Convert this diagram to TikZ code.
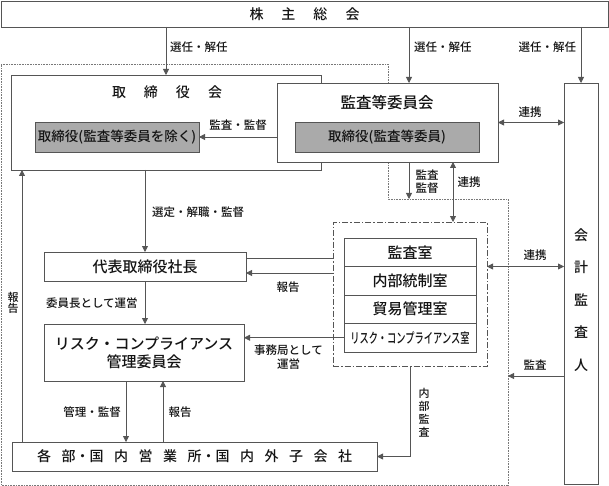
\documentclass[tikz,border=0pt]{standalone}
\usepackage{fontspec}
\usepackage{graphicx}
\setmainfont{Noto Sans CJK JP}[UprightFont={* Medium}]
\usetikzlibrary{arrows.meta}
\definecolor{ln}{RGB}{85,85,85}
\definecolor{dotc}{RGB}{120,120,120}
\definecolor{gfill}{RGB}{170,170,170}
\definecolor{tx}{RGB}{20,20,20}
\newcommand{\jfsz}[1]{\fontsize{#1}{#1}\selectfont}
\newcommand{\jfs}[2]{\fontsize{#1}{#2}\selectfont}
\newcommand{\jgap}{\hspace{10.5pt}}
\newcommand{\jgapL}{\hspace{18pt}}
\begin{document}
\begin{tikzpicture}[x=1pt,y=-1pt,
  box/.style={draw=ln, line width=0.8pt, fill=white, inner sep=0pt, outer sep=0pt, text=tx},
  gbox/.style={box, fill=gfill},
  arr/.style={draw=ln, line width=0.8pt, -{Triangle[length=6pt,width=6pt]}},
  darr/.style={draw=ln, line width=0.8pt, {Triangle[length=6pt,width=6pt]}-{Triangle[length=6pt,width=6pt]}},
  plainline/.style={draw=ln, line width=0.8pt},
  lbl/.style={inner sep=0pt, outer sep=0pt, text=tx, font=\jfsz{11.5}},
]
\useasboundingbox (0,0) rectangle (609,486);

% outer dotted region
\draw[dotc, line width=0.6pt, dash pattern=on 0.8pt off 0.8pt]
  (1,64) -- (388,64) -- (388,199) -- (508,199) -- (508,485) -- (1,485) -- cycle;
\coordinate (kkend) at (409,199);
\coordinate (kaend) at (508,376);

% shareholders
\node[box, minimum width=607pt, minimum height=26pt, font=\jfsz{14}] (kabu) at (304.5,14)
  {株\jgapL 主\jgapL 総\jgapL 会};

% board
\node[box, minimum width=310pt, minimum height=95pt] (tori) at (166,122.5) {};
\node[lbl, font=\jfsz{14}] (toriT) at (167,92) {取\jgapL 締\jgapL 役\jgapL 会};
\node[gbox, minimum width=164pt, minimum height=30pt, font=\jfsz{13.5}] (g1) at (117,137) {取締役(監査等委員を除く)};

% audit committee
\node[box, minimum width=221pt, minimum height=79pt] (kansa) at (387.5,122.5) {};
\node[lbl, font=\jfsz{15.5}] (kansaT) at (387,103) {監査等委員会};
\node[gbox, minimum width=184pt, minimum height=30pt, font=\jfsz{13.5}] (g2) at (387,137) {取締役(監査等委員)};

% accounting auditor
\node[box, minimum width=34pt, minimum height=401pt] (kaikei) at (581,283.5) {};
\node[lbl, font=\jfs{14}{32.5}, align=center] (kaikeiT) at (581,300) {会\\計\\監\\査\\人};

% president
\node[box, minimum width=202pt, minimum height=29pt, font=\jfsz{15}] (daihyo) at (145,266.5) {代表取締役社長};

% risk committee
\node[box, minimum width=200pt, minimum height=57pt, font=\jfs{15}{18}, align=center] (risk) at (144,352.5)
  {リスク・コンプライアンス\\管理委員会};

% dash-dot group
\node[draw=ln, line width=0.8pt, dash pattern=on 6pt off 2pt on 1.5pt off 2pt,
  minimum width=154pt, minimum height=144pt, inner sep=0pt, outer sep=0pt] (dd) at (410,294) {};
\node[box, minimum width=132pt, minimum height=28.5pt, font=\jfsz{15}] (r1) at (410,252.25) {監査室};
\node[box, minimum width=132pt, minimum height=28.5pt, font=\jfsz{15}] (r2) at (410,280.75) {内部統制室};
\node[box, minimum width=132pt, minimum height=28.5pt, font=\jfsz{15}] (r3) at (410,309.25) {貿易管理室};
\node[box, minimum width=132pt, minimum height=28.5pt, font=\jfsz{14}] (r4) at (410,337.75)
  {\scalebox{0.66}[1]{リスク・コンプライアンス室}};

% departments
\node[box, minimum width=365pt, minimum height=29pt, font=\jfsz{14}] (kb) at (194.5,456.5)
  {各\jgap 部・国\jgap 内\jgap 営\jgap 業\jgap 所・国\jgap 内\jgap 外\jgap 子\jgap 会\jgap 社};

% connectors from shareholders
\draw[arr] (kabu.south -| tori.north) -- (tori.north);
\draw[arr] (kabu.south -| kkend) -- (kansa.north -| kkend);
\draw[arr] (kabu.south -| kaikei.north) -- (kaikei.north);
\node[lbl, anchor=west] at (170,47) {選任・解任};
\node[lbl, anchor=west] at (414,47) {選任・解任};
\node[lbl, anchor=east] at (576,47) {選任・解任};

% audit committee relations
\draw[arr] (kansa.west |- g1.east) -- (g1.east);
\node[lbl] at (238,125) {監査・監督};
\draw[darr] (kansa.east) -- (kansa.east -| kaikei.west);
\node[lbl] at (530,112) {連携};
\draw[arr] (kansa.south -| kkend) -- (kkend);
\node[lbl, font=\jfs{11.5}{13}, align=center] at (427,181.5) {監査\\監督};
\draw[darr] (kansa.south -| 453,0) -- (dd.north -| 453,0);
\node[lbl] at (469,182) {連携};

% accounting auditor relations
\draw[darr] (dd.east |- r1.south) -- (kaikei.west |- r1.south);
\node[lbl] at (535,255) {連携};
\draw[arr] (kaikei.west |- kaend) -- (kaend);
\node[lbl] at (535,365) {監査};

% board to president
\draw[arr] (tori.south -| daihyo.north) -- (daihyo.north);
\node[lbl, anchor=west] at (152,212) {選定・解職・監督};

% group to president
\draw[plainline] (dd.west |- 0,258) -- (daihyo.east |- 0,258);
\draw[arr] (dd.west |- 0,273) -- (daihyo.east |- 0,273);
\node[lbl] at (288,287) {報告};

% risk office to committee
\draw[arr] (r4.west) -- (risk.east |- r4.west);
\node[lbl, font=\jfs{11.5}{14}, align=center] at (288.5,357) {事務局として\\運営};

% president to risk committee
\draw[arr] (daihyo.south) -- (risk.north -| daihyo.south);
\node[lbl, anchor=west] at (46,303) {委員長として運営};

% risk committee and departments
\draw[arr] (risk.south -| 126,0) -- (kb.north -| 126,0);
\node[lbl] at (92,412) {管理・監督};
\draw[arr] (kb.north -| 163,0) -- (risk.south -| 163,0);
\node[lbl] at (180,412) {報告};

% departments report to board
\draw[arr] (kb.north -| 22,0) -- (tori.south -| 22,0);
\node[lbl, font=\jfs{11}{11.5}, align=center] at (13,303) {報\\告};

% internal audit
\draw[arr] (dd.south) |- (kb.east);
\node[lbl, font=\jfs{11}{13}, align=center] at (424,412.5) {内\\部\\監\\査};
\end{tikzpicture}
\end{document}
